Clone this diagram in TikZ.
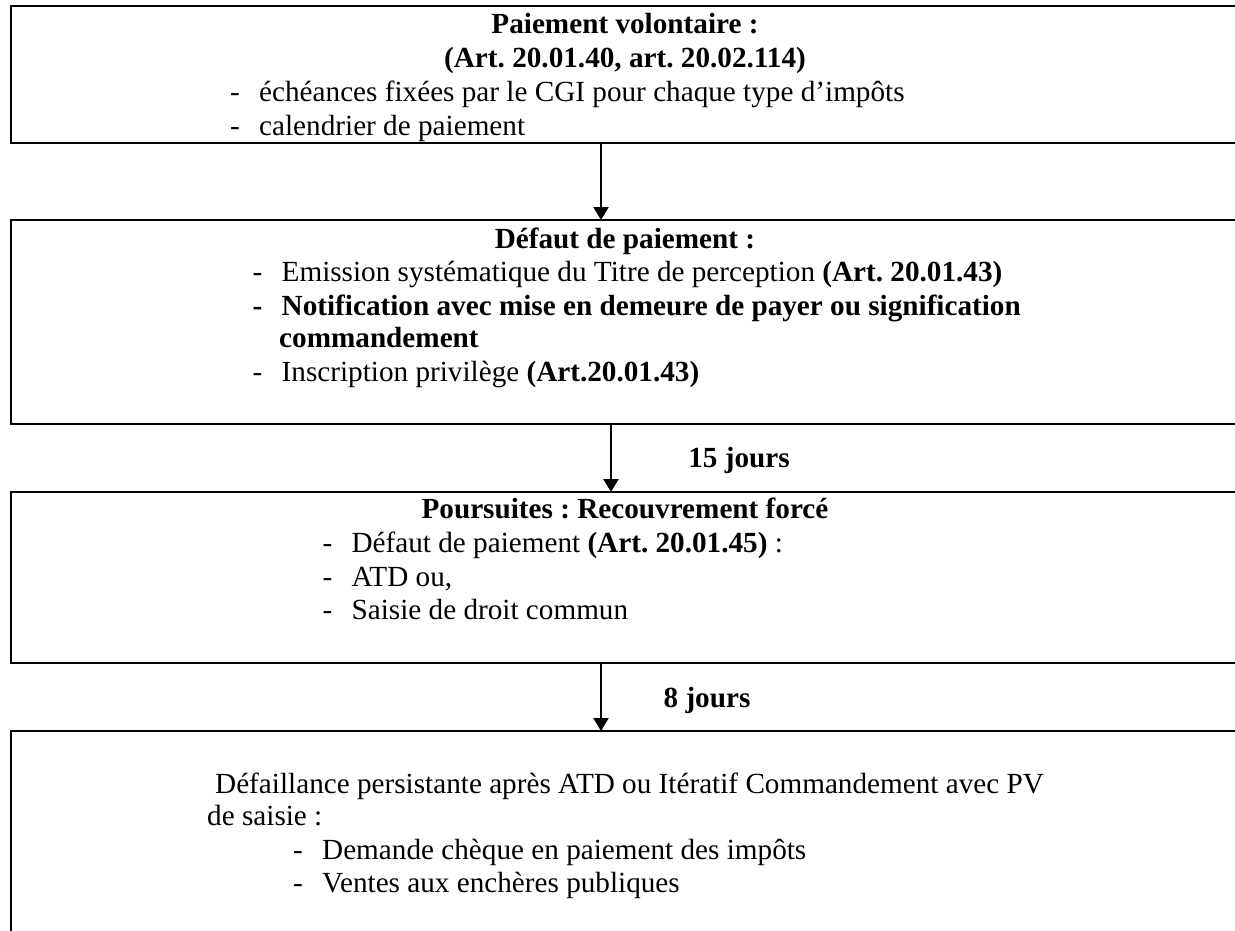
\documentclass[tikz,border=0pt]{standalone}
\usepackage{fontspec}
\setmainfont{Liberation Serif}
\usetikzlibrary{arrows.meta}
\newcommand\fsz{\fontsize{29.2pt}{33.8pt}\selectfont\frenchspacing}
\newcommand\dsh{\makebox[29pt][l]{-}}
\begin{document}
\begin{tikzpicture}[x=1pt,y=-1pt,
  box/.style={draw, line width=2.5pt, inner sep=0pt, outer sep=0pt, anchor=north west, minimum width=1250pt},
  t/.style={inner sep=0pt, anchor=base west, font=\fsz},
  c/.style={inner sep=0pt, anchor=base, font=\fsz\bfseries},
  arr/.style={line width=2pt, -{Triangle[length=13pt,width=15pt]}}]
\useasboundingbox (0,0) rectangle (1235,931);
\clip (0,0) rectangle (1235,931);
% boxes
\node[box, minimum height=137pt] (b1) at (11,6) {};
\node[box, minimum height=204pt] (b2) at (11,220) {};
\node[box, minimum height=171pt] (b3) at (11,492) {};
\node[box, minimum height=240pt] (b4) at (11,731) {};
% arrows
\coordinate (xa) at (601,0);
\coordinate (xb) at (611,0);
\draw[arr] (b1.south -| xa) -- (b2.north -| xa);
\draw[arr] (b2.south -| xb) -- (b3.north -| xb);
\draw[arr] (b3.south -| xa) -- (b4.north -| xa);
\node[c] (l15) at (739,467) {15 jours};
\node[c] (l8) at (707,707) {8 jours};
% box 1
\node[c] (h1) at (625,34) {Paiement volontaire :};
\node[c] (h1b) at (625,68) {(Art. 20.01.40, art. 20.02.114)};
\node[t] (p1) at (230,102) {\dsh échéances fixées par le CGI pour chaque type d’impôts};
\node[t] (p2) at (230,135.5) {\dsh calendrier de paiement};
% box 2
\node[c] (h2) at (625,248) {Défaut de paiement :};
\node[t] (q1) at (252.5,281) {\dsh Emission systématique du Titre de perception \textbf{(Art. 20.01.43)}};
\node[t] (q2) at (252.5,315) {\bfseries\dsh Notification avec mise en demeure de payer ou signification};
\node[t] (q3) at (279,347.5) {\bfseries commandement};
\node[t] (q4) at (252.5,381) {\dsh Inscription privilège \textbf{(Art.20.01.43)}};
% box 3
\node[c] (h3) at (625,518.5) {Poursuites : Recouvrement forcé};
\node[t] (r1) at (322.4,552.3) {\dsh Défaut de paiement \textbf{(Art. 20.01.45)} :};
\node[t] (r2) at (322.4,586) {\dsh ATD ou,};
\node[t] (r3) at (322.4,619.5) {\dsh Saisie de droit commun};
% box 4
\node[t] (s1) at (215,793) {Défaillance persistante après ATD ou Itératif Commandement avec PV};
\node[t] (s2) at (207,825.5) {de saisie :};
\node[t] (s3) at (293,859) {\dsh Demande chèque en paiement des impôts};
\node[t] (s4) at (293,892.6) {\dsh Ventes aux enchères publiques};
\end{tikzpicture}
\end{document}
